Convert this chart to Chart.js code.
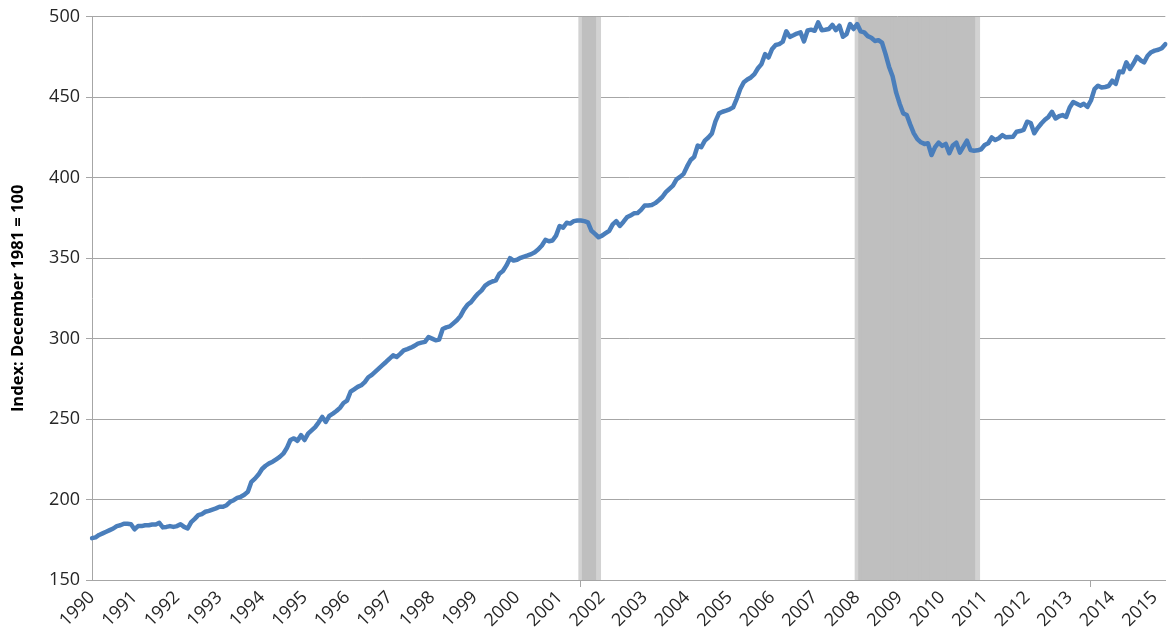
<!DOCTYPE html>
<html><head><meta charset="utf-8">
<script src="https://cdn.jsdelivr.net/npm/chart.js@4"></script>
<style>html,body{margin:0;padding:0;background:#fff}#wrap{width:1170px;height:643px}</style>
</head><body><div id="wrap"><canvas id="c" width="1170" height="643"></canvas></div>
<script>
// ---- data ----
const startYear = 1990;
// monthly index values, Jan 1990 .. Apr 2015 (one row per year)
const indexValues = [
  176, 176.5, 178, 179, 180, 181, 182, 183.5, 184, 185, 185, 184.7,
  181.5, 183.5, 183.5, 184, 184, 184.5, 184.5, 185.5, 182.7, 183, 183.5, 183,
  183.5, 184.7, 183, 182, 186, 188, 190.3, 191, 192.4, 193, 193.8, 194.5,
  195.5, 195.5, 196.5, 198.6, 199.6, 201, 201.7, 203, 204.8, 211, 213, 215.5,
  219, 221, 222.5, 223.5, 225, 226.5, 228.5, 232, 237, 238, 236.5, 240,
  237, 241, 243, 245, 248, 251.3, 248.2, 252, 253.4, 255, 257, 260,
  261.5, 267, 268.5, 270, 271, 273, 276, 277.5, 279.5, 281.5, 283.5, 285.5,
  287.6, 289.6, 288.6, 290.5, 292.7, 293.5, 294.4, 295.5, 296.9, 297.5, 298, 301,
  300, 299, 299.5, 306, 307, 307.6, 309.5, 311.4, 314, 318, 321, 322.7,
  325.5, 328, 330, 333, 334.5, 335.5, 336.2, 340.3, 342, 345.5, 350, 348.5,
  349, 350.2, 351, 351.7, 352.5, 353.7, 355.5, 357.9, 361.4, 360.5, 361, 364,
  370, 369, 372, 371.5, 373, 373.4, 373.4, 373, 372.3, 367, 365.1, 363,
  364, 365.5, 367, 371, 373, 370, 372.5, 375.4, 376.5, 377.9, 378, 380,
  382.7, 382.7, 383, 384.2, 386, 388, 391, 393.1, 395.1, 399, 400.5, 402.4,
  407, 411, 413, 420, 419, 423, 425, 427.5, 435, 440, 441, 441.7,
  442.5, 443.7, 449, 455.1, 459.3, 461, 462.3, 464.4, 468, 470.6, 476.8, 474.7,
  480, 482.5, 483, 484.5, 491, 487.5, 488.5, 489.6, 490.3, 484.7, 491.5, 492,
  491.3, 496.5, 491.7, 492, 492.4, 495, 491.7, 494.5, 487.6, 489.2, 495.5, 492.4,
  495.5, 490.9, 490.3, 488, 487, 485, 485.5, 484, 477, 469, 463, 453,
  446, 440, 439, 433, 427.6, 424, 422, 421, 421.4, 414.1, 419, 421.8,
  419.8, 421, 415.2, 420, 421.8, 415.6, 419.3, 423, 417.2, 416.8, 417, 417.7,
  420.3, 421.4, 425, 423.4, 424.5, 426.5, 425.1, 425.3, 425.5, 428.6, 429, 429.7,
  434.8, 434, 427.6, 431, 433.7, 436, 437.8, 440.9, 436.8, 438.2, 438.9, 437.8,
  443.6, 447, 446, 444.8, 445.9, 444, 448, 455, 457.2, 456.1, 456.4, 457,
  460.3, 458.3, 466, 465.5, 471.7, 467.6, 471, 475.1, 473, 471.7, 475.8, 478,
  479, 479.5, 480.5, 483
];
// shaded periods [first month, last month]
const recessions = [["2001-07", "2001-12"], ["2008-01", "2010-11"]];
const yMin = 150, yMax = 500, yStep = 50;
const yTitle = "Index: December 1981 = 100";

// ---- derived categories ----
const monthLabels = indexValues.map((_, i) => {
  const y = startYear + Math.floor(i / 12), m = (i % 12) + 1;
  return y + "-" + String(m).padStart(2, "0");
});
const shade = monthLabels.map(l => recessions.some(r => l >= r[0] && l <= r[1]) ? yMax : null);
const isEdge = i => recessions.some(r => monthLabels[i] === r[0] || monthLabels[i] === r[1]);

const axisGray = "#a6a6a6";
const txt = "#262626";
const fam = "'Open Sans', 'DejaVu Sans', sans-serif";

new Chart(document.getElementById("c"), {
  data: {
    labels: monthLabels,
    datasets: [
      { type: "line", data: indexValues, borderColor: "#4a7ebb", borderWidth: 4.5,
        pointRadius: 0, tension: 0, order: 1, borderJoinStyle: "round", borderCapStyle: "round" },
      { type: "bar", data: shade,
        backgroundColor: c => (isEdge(c.dataIndex) ? "#d2d2d2" : "#bfbfbf"), borderWidth: 0,
        categoryPercentage: 1, barPercentage: 1.4, order: 2 }
    ]
  },
  options: {
    responsive: false, animation: false, devicePixelRatio: 1,
    layout: { padding: { top: 16, right: 2, left: 0, bottom: 0 } },
    plugins: { legend: { display: false }, tooltip: { enabled: false } },
    scales: {
      x: {
        type: "category", offset: false,
        grid: { drawOnChartArea: false, drawTicks: true, tickLength: 7,
          color: c => (c.index % 12 === 0 ? axisGray : "rgba(0,0,0,0)"), lineWidth: 1 },
        border: { color: axisGray, width: 1 },
        ticks: { autoSkip: false, minRotation: 45, maxRotation: 45, padding: 0,
          color: txt, font: { family: fam, size: 18 },
          callback: (v, i) => (i % 12 === 0 ? monthLabels[i].slice(0, 4) : null) },
        afterFit: s => { s.height = 63; }
      },
      y: {
        min: yMin, max: yMax,
        ticks: { stepSize: yStep, color: txt, padding: 6, font: { family: fam, size: 18 } },
        grid: { color: axisGray, lineWidth: 1, tickLength: 6 },
        border: { color: axisGray, width: 1 },
        title: { display: true, text: yTitle, color: "#000",
          font: { family: fam, size: 16.5, weight: "bold" }, padding: { top: 8, bottom: 0 } },
        afterFit: s => { s.width = 92; }
      }
    }
  }
});
</script></body></html>
